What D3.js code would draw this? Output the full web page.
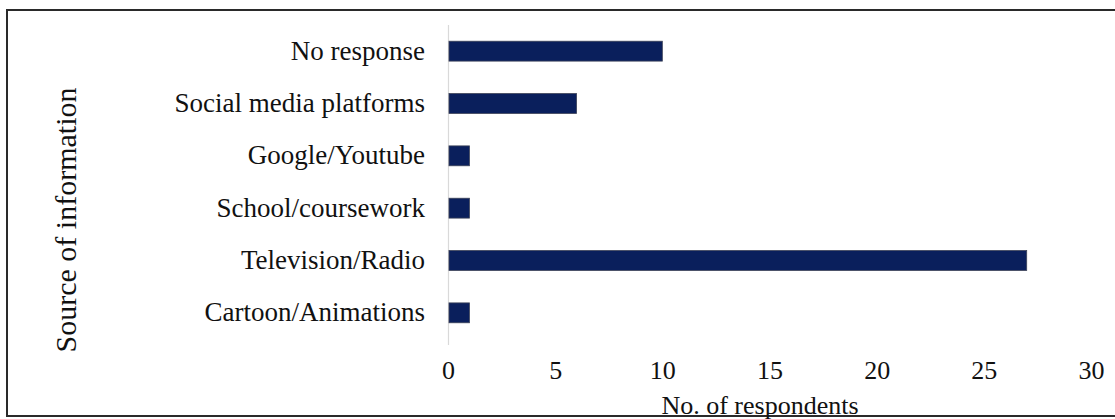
<!DOCTYPE html>
<html>
<head>
<meta charset="utf-8">
<script src="https://cdn.jsdelivr.net/npm/d3@7"></script>
<style>
  html, body { margin: 0; padding: 0; background: #fff; }
  svg { display: block; }
  text { font-family: "Liberation Serif", Tinos, "Times New Roman", Times, "DejaVu Serif", "Noto Serif", serif; fill: #111; }
</style>
</head>
<body>
<svg id="chart" width="1115" height="419"></svg>
<script>
// Sources of information, listed top to bottom
const categories = [
  "No response",
  "Social media platforms",
  "Google/Youtube",
  "School/coursework",
  "Television/Radio",
  "Cartoon/Animations"
];
const respondents = [10, 6, 1, 1, 27, 1];
const xTicks = [0, 5, 10, 15, 20, 25, 30];

const serif = '"Liberation Serif", Tinos, "Times New Roman", Times, "DejaVu Serif", "Noto Serif", serif';

const svg = d3.select("#chart");

// Frame around the figure
svg.append("rect")
  .attr("x", 7).attr("y", 10)
  .attr("width", 1120).attr("height", 406)
  .attr("fill", "none")
  .attr("stroke", "#2a2a2a")
  .attr("stroke-width", 2);

const x = d3.scaleLinear().domain([0, 30]).range([448, 1091]);
const y = d3.scaleBand()
  .domain(categories)
  .range([25, 339])
  .paddingInner(0.62)
  .paddingOuter(0.31);

// Category axis line
svg.append("line")
  .attr("x1", x(0) + 0.5).attr("x2", x(0) + 0.5)
  .attr("y1", 25).attr("y2", 345)
  .attr("stroke", "#d9d9d9")
  .attr("stroke-width", 1.2);

// Bars
svg.append("g")
  .selectAll("rect")
  .data(categories)
  .join("rect")
  .attr("x", x(0) + 1)
  .attr("y", d => y(d))
  .attr("width", (d, i) => x(respondents[i]) - x(0) - 1)
  .attr("height", y.bandwidth())
  .attr("fill", "#0a1f5c")
  .attr("stroke", "#3c4258")
  .attr("stroke-width", 0.8);

// Category labels
const yAxis = d3.axisLeft(y).tickSize(0).tickPadding(23);
const gy = svg.append("g").attr("transform", `translate(${x(0)},0)`).call(yAxis)
  .attr("font-family", serif);
gy.select(".domain").remove();
gy.selectAll("text")
  .style("font-family", serif)
  .style("font-size", "27px")
  .attr("fill", "#111");

// Value axis tick labels
const xAxis = d3.axisBottom(x).tickValues(xTicks).tickSize(0).tickPadding(0);
const gx = svg.append("g").attr("transform", "translate(0,361)").call(xAxis)
  .attr("font-family", serif);
gx.select(".domain").remove();
gx.selectAll("text")
  .attr("dy", "0.71em")
  .style("font-family", serif)
  .style("font-size", "26px")
  .attr("fill", "#111");

// Axis titles
svg.append("text")
  .attr("x", 760)
  .attr("y", 414)
  .attr("text-anchor", "middle")
  .style("font-family", serif)
  .style("font-size", "26px")
  .text("No. of respondents");

svg.append("text")
  .attr("transform", "translate(76,220) rotate(-90)")
  .attr("text-anchor", "middle")
  .style("font-family", serif)
  .style("font-size", "30px")
  .text("Source of information");
</script>
</body>
</html>
